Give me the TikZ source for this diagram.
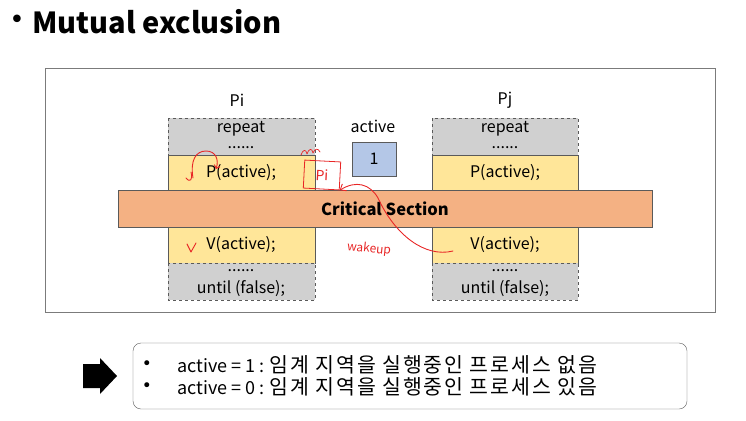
\documentclass[tikz,border=0pt]{standalone}
\usepackage{fontspec}
\setmainfont{Noto Sans CJK KR}
\newfontfamily\dejavu{DejaVu Sans}
\newfontfamily\korfont[LetterSpace=9]{Noto Sans CJK KR}
\usetikzlibrary{arrows.meta}
\definecolor{boxgray}{RGB}{208,208,208}
\definecolor{codeyellow}{RGB}{255,230,153}
\definecolor{csorange}{RGB}{244,177,131}
\definecolor{semblue}{RGB}{180,199,231}
\definecolor{pen}{RGB}{232,38,38}
\definecolor{edge}{RGB}{90,90,90}
\newcommand{\kor}[1]{{\fontsize{20.5}{22}\korfont #1}}

\begin{document}
\begin{tikzpicture}[x=1pt, y=-1pt,
    every node/.style={font=\fontsize{16}{18}\selectfont, inner sep=1pt},
    dots/.style={text height=3pt, text depth=0pt},
    loopbox/.style={fill=boxgray, draw=edge, dashed},
    codebox/.style={fill=codeyellow, draw=edge},
    ink/.style={pen, line width=0.9pt, line cap=round, line join=round}]
			\useasboundingbox (0,0) rectangle (746,420);
			\node[font=\fontsize{26}{26}\dejavu] (bul) at (17,22) {•};
			\node[anchor=west, font=\fontsize{29}{32}\selectfont\bfseries] (title) at (31,22) {Mutual exclusion};
			\draw[edge!80] (45,68) rectangle (715,312);
			% process Pi
			\node (pi) at (237,100) {Pi};
			\filldraw[loopbox] (168,118) rectangle (315,155);
			\node (irep) at (241,129) {repeat};
			\node[dots] (idot) at (241,147) {......};
			\filldraw[codebox] (168,155) rectangle (315,190);
			\node (ip) at (241,173) {P(active);};
			\filldraw[codebox] (168,227) rectangle (315,263);
			\node (iv) at (241,245) {V(active);};
			\filldraw[loopbox] (168,263) rectangle (315,300);
			\node[dots] (idot2) at (241,270) {......};
			\node (iuntil) at (241,289) {until (false);};
			% process Pj
			\node (pj) at (505,100) {Pj};
			\filldraw[loopbox] (432,118) rectangle (578,155);
			\node (jrep) at (505,129) {repeat};
			\node[dots] (jdot) at (505,147) {......};
			\filldraw[codebox] (432,155) rectangle (578,190);
			\node (jp) at (505,173) {P(active);};
			\filldraw[codebox] (432,227) rectangle (578,263);
			\node (jv) at (505,245) {V(active);};
			\filldraw[loopbox] (432,263) rectangle (578,300);
			\node[dots] (jdot2) at (505,270) {......};
			\node (juntil) at (505,289) {until (false);};
			% semaphore
			\node (act) at (373,126) {active};
			\filldraw[fill=semblue, draw=edge] (352,142) rectangle (396,176);
			\node (one) at (374,159) {1};
			% critical section
			\filldraw[fill=csorange, draw=edge] (118,190) rectangle (652,227);
			\node[font=\fontsize{16.5}{18}\selectfont\bfseries] (cs) at (385,209) {Critical Section};
			% red pen notes
			\draw[ink, -{Straight Barb[length=3pt]}] (193,178) .. controls (190,160) and (196,151) .. (206,151) .. controls (216,151) and (219,160) .. (216,169);
			\draw[ink] (191,172) .. controls (193,180) and (190,183) .. (186,178);
			\draw[ink] (187,244) -- (191,252) -- (196,243);
			\node[pen, draw=pen, line width=0.8pt, rotate=-3, minimum width=36pt, minimum height=28pt, font=\fontsize{14}{16}\selectfont\itshape] (pimark) at (322,175) {Pi};
			\draw[ink, line width=0.7pt] (301,155) .. controls (303,149) and (306,149) .. (307,154) .. controls (309,148) and (312,148) .. (313,153) .. controls (315,148) and (318,148) .. (320,152);
			\coordinate (wake) at (453,251);
			\draw[ink, -{Straight Barb[length=5pt, width=8pt]}] (wake) .. controls (425,258) and (395,235) .. (378,198) .. controls (370,184) and (356,180) .. (pimark.south east);
			\node[pen, rotate=-6, font=\fontsize{12}{14}\selectfont\itshape] (wnote) at (369,249) {wakeup};
			% summary
			\fill (83,364) -- (100,364) -- (100,358) -- (117,376) -- (100,394) -- (100,388) -- (83,388) -- cycle;
			\draw[edge, rounded corners=8pt] (133,343) rectangle (687,409);
			\node[font=\fontsize{17}{17}\dejavu] (b1) at (147,365) {•};
			\node[font=\fontsize{17}{17}\dejavu] (b2) at (147,387) {•};
			\node[anchor=west, font=\fontsize{18}{20}\selectfont] (s1) at (176,365) {active = 1 : \kor{임계 지역을 실행중인 프로세스 없음}};
			\node[anchor=west, font=\fontsize{18}{20}\selectfont] (s2) at (176,387) {active = 0 : \kor{임계 지역을 실행중인 프로세스 있음}};
\end{tikzpicture}
\end{document}
